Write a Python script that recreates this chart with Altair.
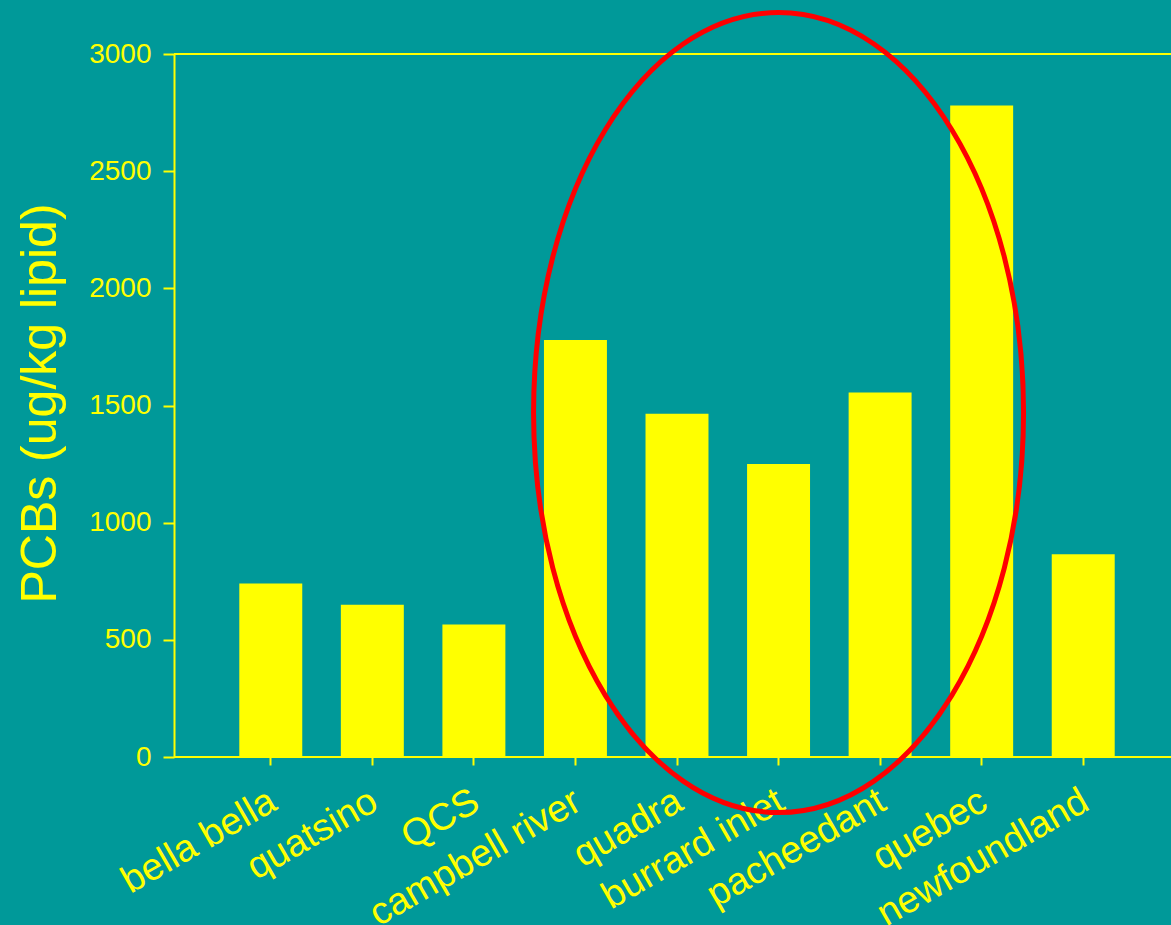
import altair as alt
import pandas as pd

# PCB concentrations (ug/kg lipid) by sampling site
sites = ["bella bella", "quatsino", "QCS", "campbell river", "quadra",
         "burrard inlet", "pacheedant", "quebec", "newfoundland"]
pcbs = [740, 650, 565, 1780, 1465, 1250, 1555, 2780, 865]
y_ticks = [0, 500, 1000, 1500, 2000, 2500, 3000]

# highlighted group: centre of the ring around the urban / industrial sites
ring_site = ["burrard inlet"]
ring_value = [1470]

BG = "#009999"
YELLOW = "#FFFF00"
RED = "#FF0000"
FONT = "Liberation Sans"

df = pd.DataFrame({"site": sites, "pcb": pcbs})
ring_df = pd.DataFrame({"site": ring_site, "pcb": ring_value})

x_enc = alt.X(
    "site:N",
    sort=sites,
    scale=alt.Scale(range=[46, 960], paddingInner=0.38, paddingOuter=0.19),
    axis=alt.Axis(
        title=None,
        domain=False,
        tickColor=YELLOW, tickWidth=2, tickSize=8,
        labelColor=YELLOW, labelFont=FONT, labelFontSize=38,
        labelAngle=-30, labelAlign="right", labelBaseline="top",
        labelPadding=17, labelOffset=-7, labelLimit=0, labelOverlap=False,
    ),
)
y_enc = alt.Y(
    "pcb:Q",
    scale=alt.Scale(domain=[0, 3000]),
    axis=alt.Axis(
        title="PCBs (ug/kg lipid)",
        values=y_ticks,
        format="d",
        grid=False,
        domainColor=YELLOW, domainWidth=2,
        tickColor=YELLOW, tickWidth=2, tickSize=11,
        labelColor=YELLOW, labelFont=FONT, labelFontSize=28,
        labelPadding=12,
        titleColor=YELLOW, titleFont=FONT, titleFontSize=50,
        titleFontWeight="normal",
        titleAngle=-90, titleAlign="center", titleBaseline="middle",
        titleX=-134, titleY=349,
    ),
)

bars = alt.Chart(df).mark_bar(color=YELLOW).encode(x=x_enc, y=y_enc)

# frame lines at the top (3000) and along the zero baseline, full plot width
frame_df = pd.DataFrame({"pcb": [0, 3000]})
frame = alt.Chart(frame_df).mark_rule(color=YELLOW, strokeWidth=2).encode(
    y="pcb:Q"
)

# ellipse outline drawn as a custom symbol (unit path scaled by size)
ellipse_path = "M -0.6125 0 A 0.6125 1 0 1 1 0.6125 0 A 0.6125 1 0 1 1 -0.6125 0 Z"
ring = alt.Chart(ring_df).mark_point(
    shape=ellipse_path, size=640000, filled=False,
    stroke=RED, strokeWidth=5, opacity=1,
).encode(
    x=alt.X("site:N", sort=sites),
    y="pcb:Q",
)

chart = alt.layer(bars, frame, ring).properties(
    width=997,
    height=703,
    padding={"left": 174, "top": 54, "right": 0, "bottom": 168},
    autosize=alt.AutoSizeParams(type="none"),
    background=BG,
).configure_view(stroke=None)

chart.save("out.html", embed_options={"renderer": "svg", "actions": False})
